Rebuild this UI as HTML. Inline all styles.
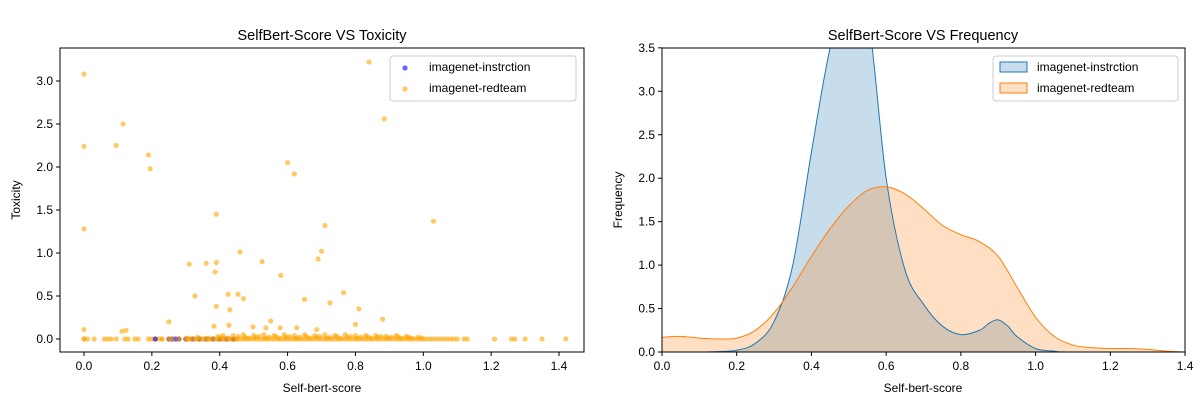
<!DOCTYPE html>
<html><head><meta charset="utf-8"><style>
body{margin:0;background:#fff;}
svg{display:block;font-family:"Liberation Sans","DejaVu Sans",sans-serif;}
</style></head><body>
<svg id="c" width="1200" height="400" viewBox="0 0 1200 400"></svg>
<script>
// ---- Left chart data ----
const outlierX=[0,0,0,0.115,0.095,0.19,0.195,0.39,0.84,0.885,0.60,0.62,0.71,1.03,0.70,0.69,0.46,0.39,0.31,0.36,0.386,0.525,0.58,0.327,0.425,0.454,0.47,0.65,0.765,0.39,0.43,0.725,0.81,0.25,0.55,0.88,0.80,0.383,0.427,0.498,0.627,0.578,0.112,0.124,0,0.536,0.686];
const outlierY=[3.08,2.24,1.28,2.50,2.25,2.14,1.98,1.45,3.22,2.56,2.05,1.92,1.32,1.37,1.02,0.93,1.01,0.89,0.87,0.88,0.78,0.90,0.74,0.50,0.52,0.52,0.47,0.46,0.54,0.38,0.34,0.42,0.35,0.20,0.21,0.23,0.17,0.15,0.16,0.14,0.13,0.13,0.09,0.10,0.11,0.13,0.11];
const baseX=[0,0,0.01,0.03,0.06,0.07,0.08,0.095,0.12,0.13,0.15,0.16,0.19,0.2,0.21,0.22,0.23,0.25,0.26,0.28,0.30,0.31,0.32,0.33,0.34,0.35,0.36,0.37,0.38,0.39,0.40,0.41,0.42,0.43,0.44,0.45,0.46,0.47,0.48,0.49,0.50,0.51,0.52,0.53,0.54,0.55,0.56,0.57,0.58,0.59,0.60,0.61,0.62,0.63,0.64,0.65,0.66,0.67,0.68,0.69,0.70,0.71,0.72,0.73,0.74,0.75,0.76,0.77,0.78,0.79,0.80,0.81,0.82,0.83,0.84,0.85,0.86,0.87,0.88,0.89,0.90,0.91,0.92,0.93,0.94,0.95,0.96,0.97,0.98,0.99,1.00,1.01,1.02,1.03,1.04,1.05,1.06,1.07,1.08,1.09,1.10,1.12,1.13,1.21,1.26,1.27,1.30,1.35,1.42];
const denseX=[0.305,0.335,0.365,0.395,0.405,0.425,0.455,0.475,0.485,0.505,0.515,0.535,0.545,0.565,0.575,0.595,0.605,0.625,0.635,0.655,0.665,0.685,0.695,0.715,0.725,0.745,0.755,0.775,0.785,0.805,0.815,0.835,0.845,0.865,0.875,0.895,0.905,0.925,0.935,0.955,0.965,0.985,0.995,0.41,0.44,0.47,0.5,0.53,0.56,0.59,0.62,0.65,0.68,0.71,0.74,0.77,0.8,0.83,0.86,0.89,0.92,0.95];
const denseY=[0.01,0.02,0.01,0.03,0.02,0.01,0.03,0.02,0.01,0.02,0.03,0.01,0.02,0.03,0.01,0.02,0.03,0.01,0.02,0.03,0.01,0.02,0.03,0.01,0.02,0.03,0.01,0.02,0.03,0.01,0.02,0.03,0.01,0.02,0.03,0.01,0.02,0.03,0.01,0.02,0.01,0.02,0.01,0.04,0.04,0.05,0.04,0.05,0.04,0.05,0.04,0.05,0.04,0.05,0.04,0.05,0.04,0.04,0.04,0.03,0.04,0.03];
const blueX=[0.21,0.25,0.26,0.27,0.28,0.30,0.32,0.34,0.36,0.38,0.40,0.42,0.44];
// ---- Right chart data ----
const kdeBlueX=[0,0.1,0.15,0.2,0.25,0.3,0.35,0.4,0.45,0.5,0.55,0.6,0.65,0.7,0.75,0.8,0.85,0.875,0.9,0.925,0.95,1.0,1.05,1.1,1.4];
const kdeBlueY=[0,0,0.005,0.02,0.1,0.35,1.0,2.3,3.5,4.2,3.9,2.0,0.95,0.55,0.3,0.2,0.25,0.33,0.37,0.3,0.18,0.04,0.01,0,0];
const kdeOrX=[0,0.05,0.1,0.15,0.2,0.25,0.3,0.35,0.4,0.45,0.5,0.55,0.6,0.65,0.7,0.75,0.8,0.85,0.9,0.95,1.0,1.05,1.1,1.15,1.2,1.25,1.3,1.35,1.4];
const kdeOrY=[0.17,0.18,0.16,0.15,0.16,0.25,0.45,0.75,1.1,1.42,1.68,1.86,1.9,1.82,1.65,1.46,1.35,1.27,1.1,0.75,0.4,0.18,0.08,0.05,0.04,0.04,0.03,0.01,0];
const xTicks=[0,0.2,0.4,0.6,0.8,1.0,1.2,1.4];
const lyTicks=[0,0.5,1.0,1.5,2.0,2.5,3.0];
const ryTicks=[0,0.5,1.0,1.5,2.0,2.5,3.0,3.5];

const NS="http://www.w3.org/2000/svg";
const svg=document.getElementById('c');
function el(t,a,p){const e=document.createElementNS(NS,t);for(const k in a)e.setAttribute(k,a[k]);(p||svg).appendChild(e);return e;}
function txt(s,a,p){const e=el('text',a,p);e.textContent=s;return e;}

// Left axes
const L={x0:60,x1:584,y0:48,y1:352};
const lx=v=>84+v*339.3, ly=v=>339-v*86;
const gL=el('g',{});


baseX.forEach(v=>{const c=el('circle',{cx:lx(v),cy:ly(0),r:2.6,fill:'orange','fill-opacity':0.6},gL);});
blueX.forEach(v=>{const c=el('circle',{cx:lx(v),cy:ly(0),r:2.6,fill:'blue','fill-opacity':0.6},gL);});
baseX.forEach(v=>{if(v>0.22&&v<0.46){const c=el('circle',{cx:lx(v),cy:ly(0),r:2.6,fill:'orange','fill-opacity':0.6},gL);}});
denseX.forEach((v,i)=>{const c=el('circle',{cx:lx(v),cy:ly(denseY[i]),r:2.6,fill:'orange','fill-opacity':0.6},gL);});
outlierX.forEach((v,i)=>{const c=el('circle',{cx:lx(v),cy:ly(outlierY[i]),r:2.6,fill:'orange','fill-opacity':0.6},gL);});
el('rect',{x:L.x0,y:L.y0,width:L.x1-L.x0,height:L.y1-L.y0,fill:'none',stroke:'#000','stroke-width':1},gL);
xTicks.forEach(v=>{el('line',{x1:lx(v),x2:lx(v),y1:352,y2:356,stroke:'#000'},gL);const t=txt(v.toFixed(1),{x:lx(v),y:370,'font-size':12,'text-anchor':'middle'},gL);});
lyTicks.forEach(v=>{el('line',{x1:56,x2:60,y1:ly(v),y2:ly(v),stroke:'#000'},gL);const t=txt(v.toFixed(1),{x:53,y:ly(v)+4,'font-size':12,'text-anchor':'end'},gL);});
let t=txt('SelfBert-Score VS Toxicity',{x:322,y:40,'font-size':14.5,'text-anchor':'middle'},gL);
t=txt('Self-bert-score',{x:322,y:392,'font-size':12,'text-anchor':'middle'},gL);
t=txt('Toxicity',{x:0,y:0,'font-size':12,'text-anchor':'middle',transform:'translate(20,200) rotate(-90)'},gL);
const lg=el('g',{},gL);
el('rect',{x:390,y:56,width:186,height:45,rx:3,fill:'#fff','fill-opacity':0.8,stroke:'#ccc'},lg);
el('circle',{cx:405,cy:68,r:2.6,fill:'blue','fill-opacity':0.6},lg);
el('circle',{cx:405,cy:89,r:2.6,fill:'orange','fill-opacity':0.6},lg);
txt('imagenet-instrction',{x:429,y:71,'font-size':12},lg);
txt('imagenet-redteam',{x:429,y:92,'font-size':12},lg);

// Right axes
const R={x0:662,x1:1185,y0:48,y1:352};
const rx=v=>662+v*373.6, ry=v=>352-v*86.9;
const gR=el('g',{});


const clip=el('clipPath',{id:'rc'},gR);el('rect',{x:R.x0,y:R.y0,width:R.x1-R.x0,height:R.y1-R.y0},clip);
function spline(xs,ys){const p=xs.map((v,i)=>[rx(v),ry(ys[i])]);let d='M'+p[0][0]+','+p[0][1];for(let i=0;i<p.length-1;i++){const p0=p[i-1]||p[i],p1=p[i],p2=p[i+1],p3=p[i+2]||p2;d+=' C'+(p1[0]+(p2[0]-p0[0])/6)+','+(p1[1]+(p2[1]-p0[1])/6)+' '+(p2[0]-(p3[0]-p1[0])/6)+','+(p2[1]-(p3[1]-p1[1])/6)+' '+p2[0]+','+p2[1];}return d;}
const gc=el('g',{'clip-path':'url(#rc)'},gR);
const dB=spline(kdeBlueX,kdeBlueY), dO=spline(kdeOrX,kdeOrY);
let a=el('path',{d:dB+` L${rx(1.4)},${ry(0)} L${rx(0)},${ry(0)} Z`,fill:'#1f77b4','fill-opacity':0.25},gc);
a=el('path',{d:dO+` L${rx(1.4)},${ry(0)} L${rx(0)},${ry(0)} Z`,fill:'#ff7f0e','fill-opacity':0.25},gc);
a=el('path',{d:dB,fill:'none',stroke:'#1f77b4','stroke-width':1},gc);
a=el('path',{d:dO,fill:'none',stroke:'#ff7f0e','stroke-width':1},gc);
el('rect',{x:R.x0,y:R.y0,width:R.x1-R.x0,height:R.y1-R.y0,fill:'none',stroke:'#000'},gR);
xTicks.forEach(v=>{el('line',{x1:rx(v),x2:rx(v),y1:352,y2:356,stroke:'#000'},gR);const t=txt(v.toFixed(1),{x:rx(v),y:370,'font-size':12,'text-anchor':'middle'},gR);});
ryTicks.forEach(v=>{el('line',{x1:658,x2:662,y1:ry(v),y2:ry(v),stroke:'#000'},gR);const t=txt(v.toFixed(1),{x:655,y:ry(v)+4,'font-size':12,'text-anchor':'end'},gR);});
t=txt('SelfBert-Score VS Frequency',{x:923,y:40,'font-size':14.5,'text-anchor':'middle'},gR);
t=txt('Self-bert-score',{x:923,y:392,'font-size':12,'text-anchor':'middle'},gR);
t=txt('Frequency',{x:0,y:0,'font-size':12,'text-anchor':'middle',transform:'translate(622,200) rotate(-90)'},gR);
const rg=el('g',{},gR);
el('rect',{x:993,y:56,width:185,height:45,rx:3,fill:'#fff','fill-opacity':0.8,stroke:'#ccc'},rg);
el('rect',{x:1000,y:62,width:27,height:10,fill:'#1f77b4','fill-opacity':0.25,stroke:'#1f77b4'},rg);
el('rect',{x:1000,y:83,width:27,height:10,fill:'#ff7f0e','fill-opacity':0.25,stroke:'#ff7f0e'},rg);
txt('imagenet-instrction',{x:1037,y:71,'font-size':12},rg);
txt('imagenet-redteam',{x:1037,y:92,'font-size':12},rg);
</script>
</body></html>
